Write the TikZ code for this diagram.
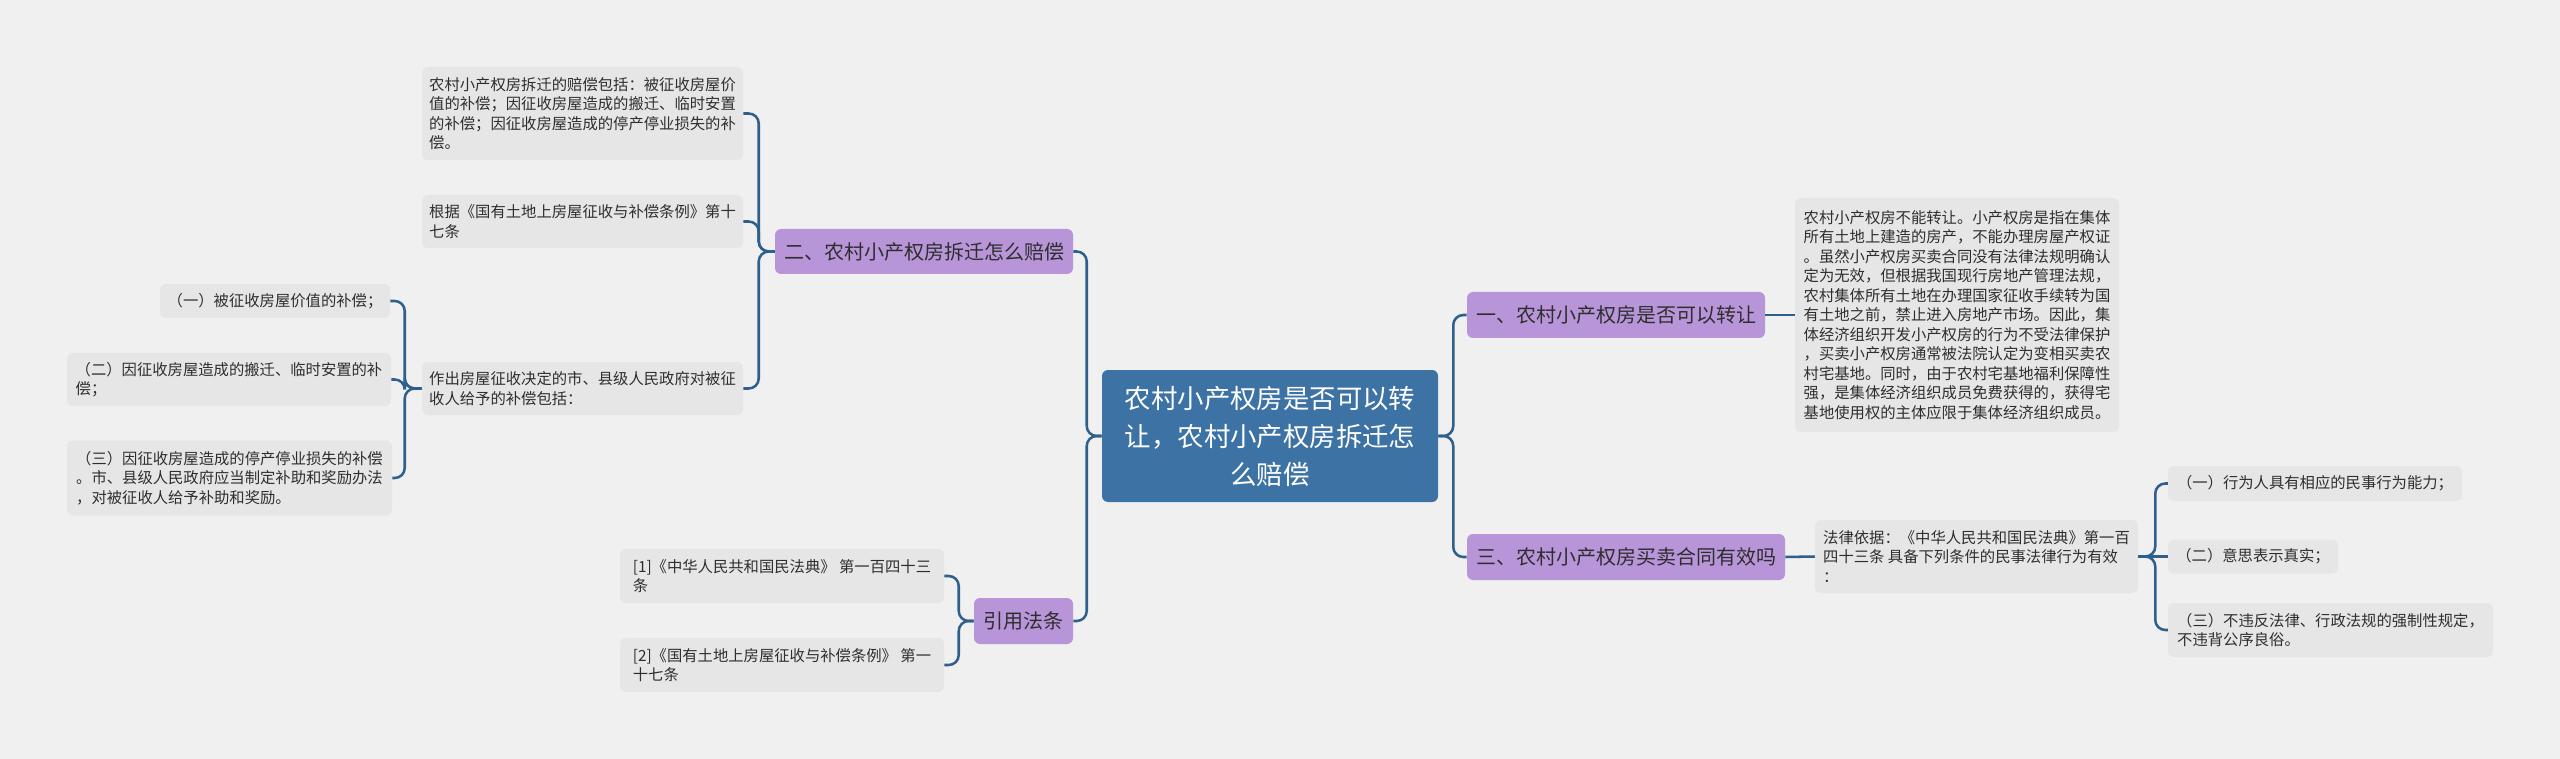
\documentclass[tikz,border=0pt]{standalone}
\usepackage{fontspec}
\setmainfont{Noto Sans CJK SC}
\definecolor{bg}{HTML}{F0F0F0}
\definecolor{leafc}{HTML}{E6E6E6}
\definecolor{purp}{HTML}{B795D8}
\definecolor{rootc}{HTML}{3D72A4}
\definecolor{linec}{HTML}{2F5F8B}
\definecolor{txt}{HTML}{2E2E2E}
\tikzset{
  box/.style 2 args={minimum width=#1*0.75pt, minimum height=#2*0.75pt},
  leaf/.style={fill=leafc, rounded corners=4.5pt, inner sep=0pt, align=left, text=txt, font=\fontsize{11.5}{14.6}\selectfont},
  topic/.style={fill=purp, rounded corners=4.5pt, inner sep=0pt, align=center, text=txt, font=\fontsize{15}{18}\selectfont},
  rootbox/.style={fill=rootc, rounded corners=4.5pt, inner sep=0pt, align=center, text=white, font=\fontsize{19.8}{28.5}\selectfont},
  conn/.style={draw=linec, line width=1.9pt, rounded corners=7.5pt},
}
\begin{document}
\begin{tikzpicture}[x=0.75pt,y=-0.75pt]
\fill[bg] (0,0) rectangle (2560,759);
\useasboundingbox (0,0) rectangle (2560,759);

% root
\node[rootbox, box={336}{132}] (root) at (1270,436) {农村小产权房是否可以转\\让，农村小产权房拆迁怎\\么赔偿};

% level 1
\node[topic, box={298}{46}] (t1) at (1616,315) {一、农村小产权房是否可以转让};
\node[topic, box={318}{46}] (t3) at (1626,557) {三、农村小产权房买卖合同有效吗};
\node[topic, box={298}{45}] (t2) at (924,251.5) {二、农村小产权房拆迁怎么赔偿};
\node[topic, box={99}{46}] (cite) at (1023.5,621) {引用法条};

% right leaves
\node[leaf, box={324}{234}] (big) at (1957,315) {农村小产权房不能转让。小产权房是指在集体\\所有土地上建造的房产，不能办理房屋产权证\\。虽然小产权房买卖合同没有法律法规明确认\\定为无效，但根据我国现行房地产管理法规，\\农村集体所有土地在办理国家征收手续转为国\\有土地之前，禁止进入房地产市场。因此，集\\体经济组织开发小产权房的行为不受法律保护\\，买卖小产权房通常被法院认定为变相买卖农\\村宅基地。同时，由于农村宅基地福利保障性\\强，是集体经济组织成员免费获得的，获得宅\\基地使用权的主体应限于集体经济组织成员。};
\node[leaf, box={323}{73}] (law) at (1976.5,556.5) {法律依据：《中华人民共和国民法典》第一百\\四十三条 具备下列条件的民事法律行为有效\\：};
\node[leaf, box={294}{35}] (r1) at (2315,483.5) {（一）行为人具有相应的民事行为能力；};
\node[leaf, box={170}{34}] (r2) at (2253,556.5) {（二）意思表示真实；};
\node[leaf, box={325}{54}] (r3) at (2330.5,630) {（三）不违反法律、行政法规的强制性规定，\\不违背公序良俗。};

% left leaves
\node[leaf, box={321}{93}] (l1) at (582.5,113.5) {农村小产权房拆迁的赔偿包括：被征收房屋价\\值的补偿；因征收房屋造成的搬迁、临时安置\\的补偿；因征收房屋造成的停产停业损失的补\\偿。};
\node[leaf, box={321}{53}] (l2) at (582.5,221.5) {根据《国有土地上房屋征收与补偿条例》第十\\七条};
\node[leaf, box={321}{53}] (l3) at (582.5,388.5) {作出房屋征收决定的市、县级人民政府对被征\\收人给予的补偿包括：};
\node[leaf, box={230}{34}] (ll1) at (275,301) {（一）被征收房屋价值的补偿；};
\node[leaf, box={324}{53}] (ll2) at (229,379.5) {（二）因征收房屋造成的搬迁、临时安置的补\\偿；};
\node[leaf, box={325}{75}] (ll3) at (229.5,478) {（三）因征收房屋造成的停产停业损失的补偿\\。市、县级人民政府应当制定补助和奖励办法\\，对被征收人给予补助和奖励。};
\node[leaf, box={324}{54}] (c1) at (782,576) {[1]《中华人民共和国民法典》 第一百四十三\\条};
\node[leaf, box={324}{54}] (c2) at (782,665) {[2]《国有土地上房屋征收与补偿条例》 第一\\十七条};

% connectors
\draw[conn] (root.east) -- ++(15,0) |- (t1.west);
\draw[conn] (root.east) -- ++(15,0) |- (t3.west);
\draw[conn] (root.west) -- ++(-15,0) |- (t2.east);
\draw[conn] (root.west) -- ++(-15,0) |- (cite.east);
\draw[conn] (t1.east) -- (big.west);
\draw[conn] (t3.east) -- (law.west);
\draw[conn] (law.east) -- ++(17,0) |- (r1.west);
\draw[conn] (law.east) -- (r2.west);
\draw[conn] (law.east) -- ++(17,0) |- (r3.west);
\draw[conn] (t2.west) -- ++(-16,0) |- (l1.east);
\draw[conn] (t2.west) -- ++(-16,0) |- (l2.east);
\draw[conn] (t2.west) -- ++(-16,0) |- (l3.east);
\draw[conn] (l3.west) -- ++(-17,0) |- (ll1.east);
\draw[conn] (l3.west) -- ++(-17,0) |- (ll2.east);
\draw[conn] (l3.west) -- ++(-17,0) |- (ll3.east);
\draw[conn] (cite.west) -- ++(-15,0) |- (c1.east);
\draw[conn] (cite.west) -- ++(-15,0) |- (c2.east);
\end{tikzpicture}
\end{document}
